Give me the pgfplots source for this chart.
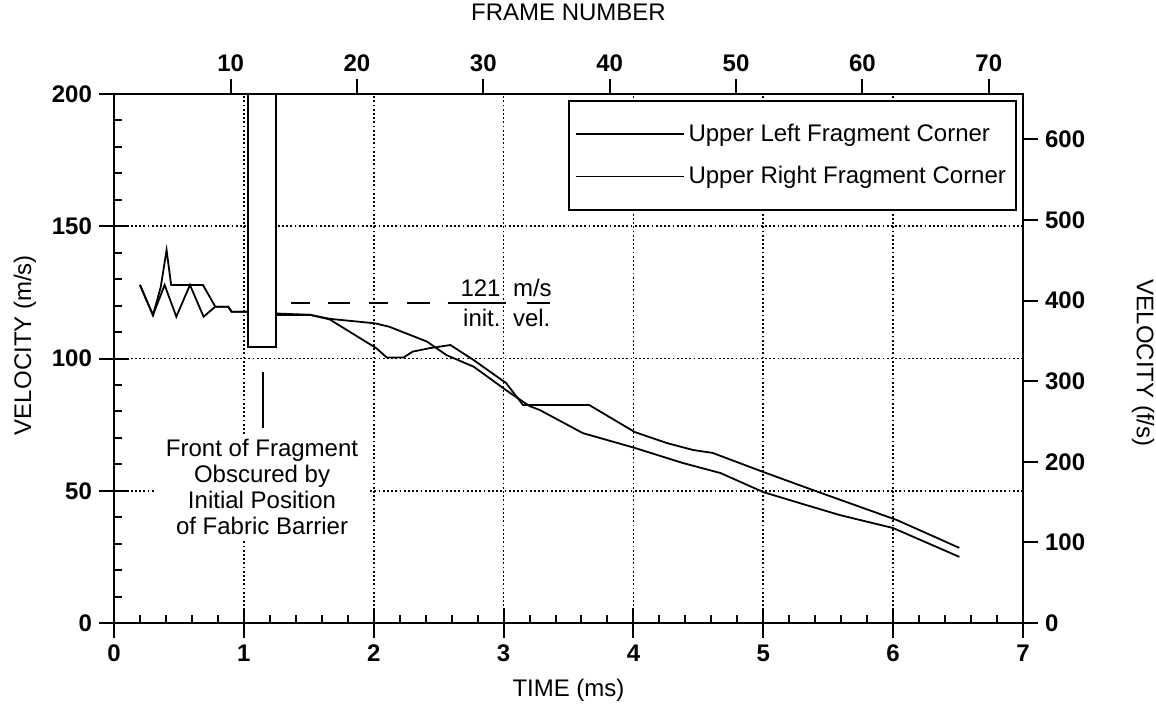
\documentclass[border=0pt]{standalone}
\usepackage{pgfplots}
\pgfplotsset{compat=1.18}
\usepackage{fontspec}
\setmainfont{Liberation Sans}
\begin{document}
\begin{tikzpicture}
\path[use as bounding box] (-57pt,-45pt) rectangle (521pt,311.5pt);
\begin{axis}[
  at={(0pt,0pt)}, anchor=south west,
  width=454.5pt, height=264.5pt, scale only axis,
  xmin=0, xmax=7, ymin=0, ymax=200,
  xtick={0,1,...,7}, ytick={0,50,...,200},
  xtick pos=left, ytick pos=left,
  tick align=center, major tick length=15pt,
  extra x ticks={0.2,0.4,0.6,0.8,1.2,1.4,1.6,1.8,2.2,2.4,2.6,2.8,3.2,3.4,3.6,3.8,4.2,4.4,4.6,4.8,5.2,5.4,5.6,5.8,6.2,6.4,6.6,6.8},
  extra x tick labels={},
  extra x tick style={grid=none, tick align=inside, major tick length=4pt},
  extra y ticks={10,20,30,40,60,70,80,90,110,120,130,140,160,170,180,190},
  extra y tick labels={},
  extra y tick style={grid=none, tick align=inside, major tick length=4pt},
  xmajorgrids, ymajorgrids,
  major grid style={black, line width=0.9pt, dash pattern=on 0.9pt off 1.2pt},
  axis line style={line width=1.1pt},
  every tick/.append style={line width=1pt, black},
  unbounded coords=jump,
  /pgf/number format/assume math mode=true,
  tick label style={font=\fontsize{12}{12}\selectfont\bfseries},
  label style={font=\fontsize{12}{14}\selectfont},
  xlabel={TIME (ms)}, ylabel={VELOCITY (m/s)},
  xlabel style={at={(axis description cs:0.5,-0.1267)}, anchor=center},
  ylabel style={at={(axis description cs:-0.0979,0.5255)}, anchor=center},
  legend style={at={(0.9934,0.9887)}, anchor=north east, draw=black, line width=1pt,
    font=\fontsize{12}{14}\selectfont, inner xsep=3pt, inner ysep=9.5pt, row sep=7pt,
    /tikz/every even column/.append style={column sep=2pt}},
  legend cell align=left,
  legend image code/.code={\draw[black, line width=0.9pt] (0pt,0pt) -- (54pt,0pt);},
]
\addplot[black, line width=0.9pt] coordinates {
(0.20,127.8) (0.30,116.4) (0.36,127.0) (0.405,141.0) (0.44,127.8) (0.685,127.8)
(0.78,119.6) (0.88,119.6) (0.905,117.7) (1.03,117.7) (1.15,117.4) (1.26,117.0)
(1.51,116.5) (1.66,115.0) (2.01,113.3) (2.12,112.0) (2.41,106.4) (2.56,101.3)
(2.77,96.9) (3.02,88.0) (3.20,82.0) (3.28,80.5) (3.61,71.8) (4.01,66.2)
(4.38,60.5) (4.67,56.7) (5.00,49.5) (5.33,44.6) (5.59,40.8) (6.00,35.9) (6.51,25.0)};
\addlegendentry{Upper Left Fragment Corner}
\addplot[black, line width=0.9pt] coordinates {
(0.20,127.8) (0.30,116.4) (0.39,127.8) (0.48,115.8) (0.585,127.8) (0.69,115.8)
(0.78,119.6) (0.88,119.6) (0.905,117.7) (1.03,117.7) (1.26,116.5) (1.51,116.5)
(1.66,114.8) (2.02,103.9) (2.10,100.4) (2.23,100.4) (2.30,102.6) (2.43,103.9)
(2.59,105.1) (2.77,99.4) (3.02,90.7) (3.15,82.4) (3.66,82.4) (4.01,72.2)
(4.26,68.0) (4.46,65.4) (4.61,64.3) (5.00,57.1) (5.38,50.3) (6.03,38.9) (6.51,28.4)};
\addlegendentry{Upper Right Fragment Corner}
% barrier box
\addplot[forget plot, draw=black, fill=white, line width=1pt] coordinates {
(1.03,104.3) (1.25,104.3) (1.25,200) (1.03,200)} -- cycle;
% initial velocity line (121 m/s)
\addplot[forget plot, black, line width=1pt] coordinates {
(1.36,121) (1.51,121) (1.58,nan) (1.65,121) (1.82,121) (1.89,nan)
(1.96,121) (2.11,121) (2.18,nan) (2.26,121) (2.43,121) (2.50,nan)
(2.57,121) (3.02,121) (3.10,nan) (3.18,121) (3.36,121)};
% pointer
\addplot[forget plot, black, line width=1.1pt] coordinates {(1.15,94.9) (1.15,73.7)};
\node[anchor=base east, inner sep=0pt, font=\fontsize{12}{12}\selectfont] at (axis cs:2.98,123.6) {121};
\node[anchor=base west, inner sep=0pt, font=\fontsize{12}{12}\selectfont] at (axis cs:3.07,123.6) {m/s};
\node[anchor=base east, inner sep=0pt, font=\fontsize{12}{12}\selectfont] at (axis cs:2.98,112.2) {init.};
\node[anchor=base west, inner sep=0pt, font=\fontsize{12}{12}\selectfont] at (axis cs:3.07,112.2) {vel.};
\node[anchor=north, align=center, fill=white, inner xsep=5pt, inner ysep=2.5pt, font=\fontsize{12}{13}\selectfont] at (axis cs:1.14,71.4)
  {Front of Fragment\\Obscured by\\Initial Position\\of Fabric Barrier};
\end{axis}
\begin{axis}[
  at={(0pt,0pt)}, anchor=south west,
  width=454.5pt, height=264.5pt, scale only axis,
  xmin=0.771, xmax=72.71, ymin=0, ymax=656.17,
  axis x line*=top, axis y line*=right,
  xtick={10,20,...,70}, ytick={0,100,...,600},
  tick align=outside, major tick length=7.5pt,
  axis line style={line width=1.1pt},
  every tick/.append style={line width=1pt, black},
  /pgf/number format/assume math mode=true,
  tick label style={font=\fontsize{12}{12}\selectfont\bfseries},
  label style={font=\fontsize{12}{14}\selectfont},
  xlabel={FRAME NUMBER}, ylabel={VELOCITY (f/s)},
  xlabel style={at={(axis description cs:0.5,1.155)}, anchor=center},
  ylabel style={at={(axis description cs:1.132,0.4915)}, anchor=center, rotate=180},
]
\addplot[draw=none, forget plot] coordinates {(10,0)};
\end{axis}
\end{tikzpicture}
\end{document}
